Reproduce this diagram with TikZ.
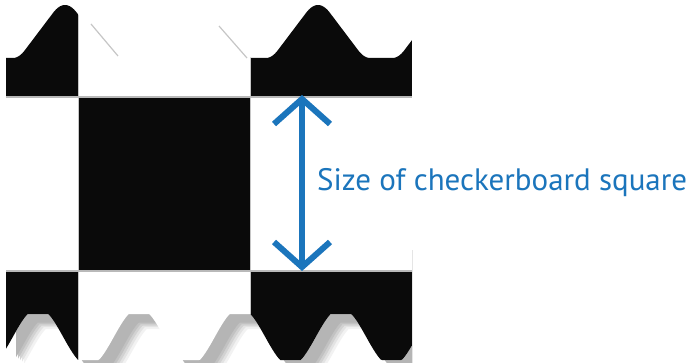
\documentclass[tikz,border=0pt]{standalone}
\usepackage{fontspec}
\newfontfamily\labfont{PT Sans}
\usetikzlibrary{calc}
\definecolor{lblue}{RGB}{27,117,188}
\definecolor{blk}{RGB}{10,10,10}
\tikzset{
  declare function={
    dd(\x)=min(52,abs(mod(\x-1.75,126.5)-63.25));
    hh(\d)=(\d<12) ? (0.15*(\d/12)^2) : ((\d<40) ? (0.15+0.025*(\d-12)) : (0.85+0.025*(\d-40)-0.025*(\d-40)^2/24));
    tw(\x)=5+53*hh(dd(\x));
    bw(\x)=337-23*max(-1,min(1,1.25*cos(3.5644*(\x-38))));
  },
  gridline/.style={gray!55,line width=1.5pt},
  colline/.style={gray!45,line width=0.8pt},
  ghost/.style={gray!45,line width=1.2pt},
  sizearrow/.style={lblue,line width=6pt,line join=miter},
  labeltext/.style={lblue,inner sep=0pt,anchor=base west,font=\labfont\fontsize{31}{36}\selectfont},
}
\def\boardpath{plot[domain=6:412,samples=300] (\x,{tw(\x)}) -- plot[domain=412:6,samples=300] (\x,{bw(\x)}) -- cycle}
\begin{document}
\begin{tikzpicture}[x=1pt,y=-1pt]
\useasboundingbox (0,0) rectangle (692,363);
\fill[white] (0,0) rectangle (692,363);
% shadow (bottom edge only)
\begin{scope}
  \clip (6,250) rectangle (412,363);
  \begin{scope}[shift={(18,15)}]\fill[gray!10] \boardpath;\end{scope}
  \begin{scope}[shift={(16,13)}]\fill[gray!22] \boardpath;\end{scope}
  \begin{scope}[shift={(14,11.5)}]\fill[gray!35] \boardpath;\end{scope}
  \begin{scope}[shift={(12,10)}]\fill[gray!48] \boardpath;\end{scope}
  \begin{scope}[shift={(10,8.5)}]\fill[gray!58] \boardpath;\end{scope}
\end{scope}
% board
\begin{scope}
  \clip \boardpath;
  \fill[white] (6,0) rectangle (412,363);
  \fill[blk] (6,0) rectangle (78,97);
  \fill[blk] (250,0) rectangle (412,97);
  \fill[blk] (78,97) rectangle (250,271);
  \fill[blk] (6,271) rectangle (78,363);
  \fill[blk] (250,271) rectangle (412,363);
  \draw[colline] (78,0) -- (78,363);
  \draw[colline] (250,0) -- (250,363);
  \draw[gridline] (6,97) -- (412,97);
  \draw[gridline] (6,271) -- (412,271);
\end{scope}
% ghost edges in top white square
\coordinate (g1a) at (91,24); \coordinate (g1b) at (118,56);
\coordinate (g2a) at (219,26); \coordinate (g2b) at (247,58);
\draw[ghost] (g1a) -- (g1b);
\draw[ghost] (g2a) -- (g2b);
% arrow
\coordinate (atop) at (302,99);
\coordinate (abot) at (302,267);
\draw[sizearrow] (atop) -- (abot);
\draw[sizearrow] ($(atop)+(-28,25)$) -- (atop) -- ($(atop)+(28,25)$);
\draw[sizearrow] ($(abot)+(-28,-25)$) -- (abot) -- ($(abot)+(28,-25)$);
\node[labeltext] (label) at (317,190) {Size of checkerboard square};
\end{tikzpicture}
\end{document}
